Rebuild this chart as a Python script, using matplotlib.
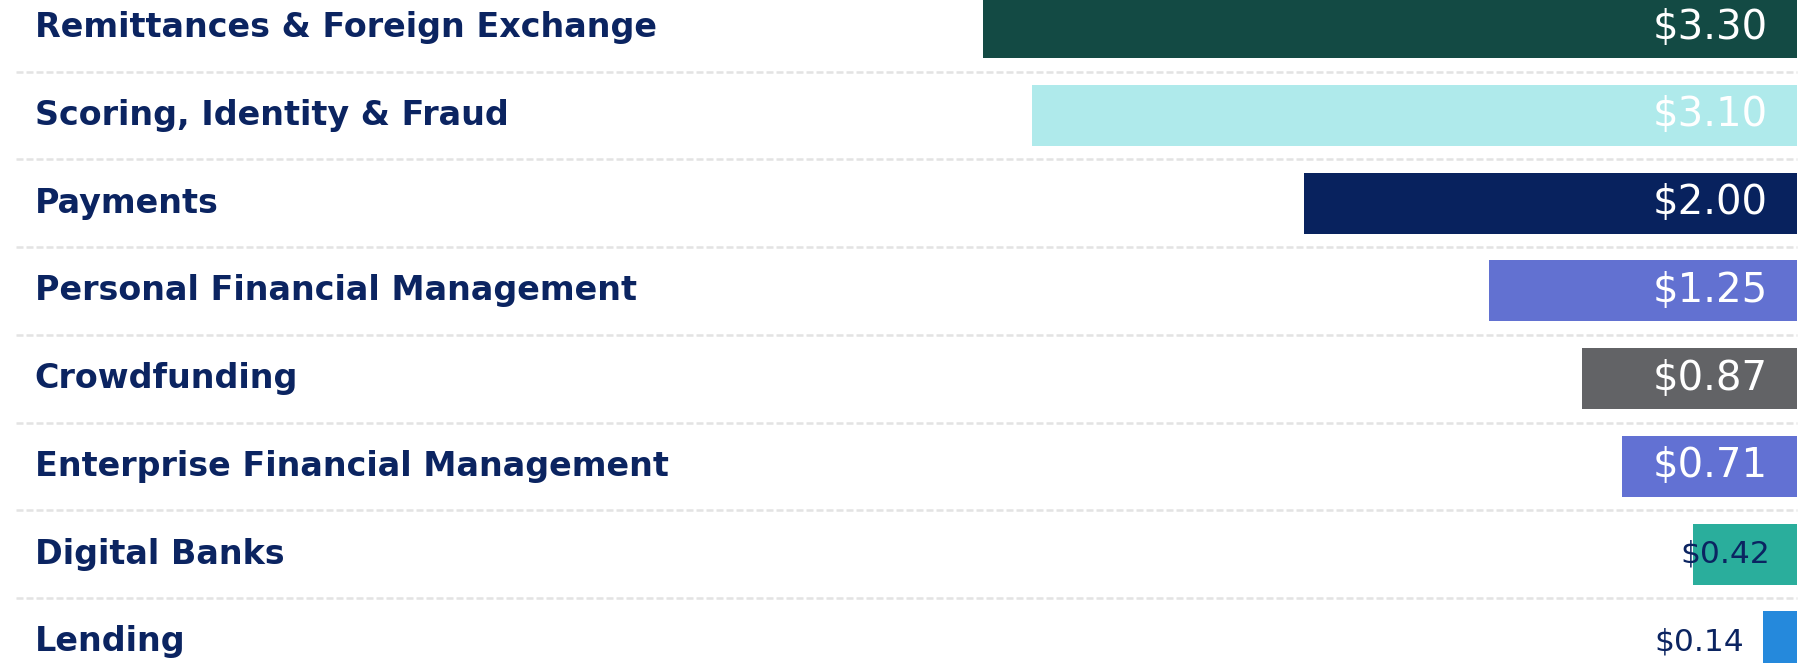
import matplotlib
matplotlib.use("Agg")
import matplotlib.pyplot as plt

# data
categories = ["Remittances & Foreign Exchange", "Scoring, Identity & Fraud", "Payments",
              "Personal Financial Management", "Crowdfunding", "Enterprise Financial Management",
              "Digital Banks", "Lending"]
values = [3.30, 3.10, 2.00, 1.25, 0.87, 0.71, 0.42, 0.14]
labels = ["$3.30", "$3.10", "$2.00", "$1.25", "$0.87", "$0.71", "$0.42", "$0.14"]
colors = ["#134a44", "#afeaeb", "#08225e", "#6271d1", "#626366", "#6271d3", "#2aae9c", "#2589dc"]

navy = "#0b2461"

fig = plt.figure(figsize=(18.01, 6.63), dpi=100)
ax = fig.add_axes([0, 0, 1, 1])

rows = list(range(len(categories)))
ax.barh(rows, values, height=0.695, color=colors)

# separators between rows
for i in rows[:-1]:
    ax.plot([7.22, 0], [i + 0.5, i + 0.5], color="#e3e3e3", lw=1.8,
            ls=(0, (2.8, 1.2)), zorder=0)

for i, (cat, v, lab) in enumerate(zip(categories, values, labels)):
    ax.text(0.0192, i, cat, transform=ax.get_yaxis_transform(), ha="left", va="center",
            fontsize=24, fontweight="bold", color=navy)
    if v >= 0.5:
        ax.text(0.12, i, lab, ha="right", va="center", fontsize=29, color="white")
    elif v >= 0.3:
        ax.text(0.11, i, lab, ha="right", va="center", fontsize=22.5, color=navy)
    else:
        ax.text(v + 0.076, i, lab, ha="right", va="center", fontsize=22.5, color=navy)

ax.set_xlim(7.284, -0.016)
ax.set_ylim(7.24, -0.316)
ax.axis("off")

fig.savefig("out.png", dpi=100)
